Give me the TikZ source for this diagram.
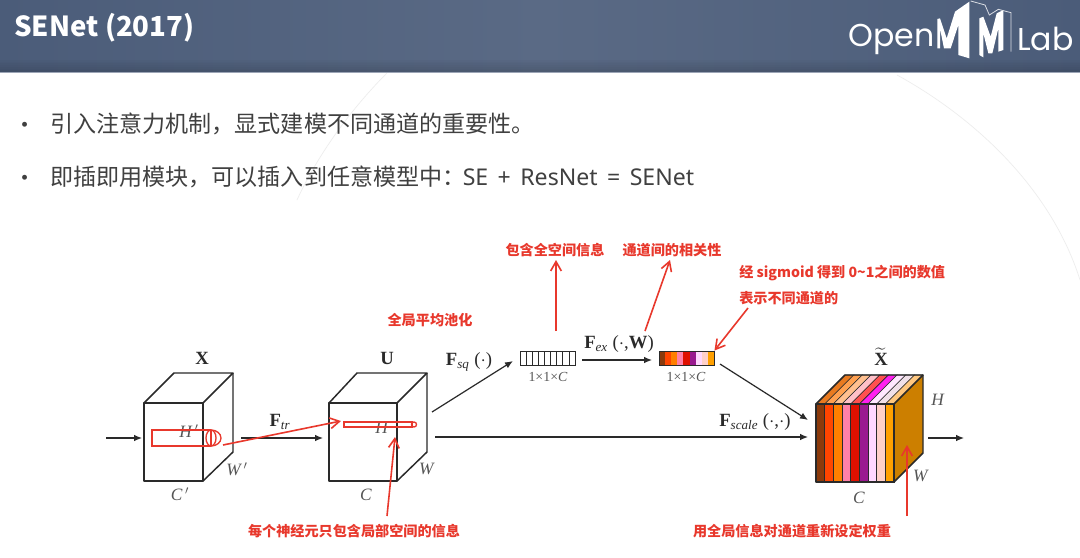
\documentclass[tikz,border=0pt]{standalone}
\usepackage{amsmath,amssymb}
\usepackage{bm}
\usepackage{fontspec}
\setmainfont{Noto Sans CJK SC}
\newfontfamily\tms{Liberation Serif}
\newfontfamily\logofont{Poppins}
\newfontfamily\latin{Noto Sans}
\usepackage{tikz}
\usetikzlibrary{arrows.meta}
\definecolor{barblue}{HTML}{4B5C79}
\definecolor{barlight}{HTML}{5A6A85}
\definecolor{notered}{HTML}{E8382C}
\definecolor{bodygray}{HTML}{404040}
\definecolor{linegray}{HTML}{2A2A2A}
\definecolor{sideorange}{HTML}{CC7F00}
\definecolor{topshade}{HTML}{F5C080}
\tikzset{
    note/.style={text=notered,font=\fontsize{10.6}{12}\selectfont\bfseries,inner sep=0pt},
    notearrow/.style={draw=notered,line width=1.2pt,-{Straight Barb[length=7pt,width=8pt]}},
    flow/.style={draw=linegray,line width=0.9pt,-{Latex[length=6pt,width=5pt]}},
    cube/.style={draw=linegray,line width=1.1pt,line join=round},
    dimlabel/.style={font=\tms\fontsize{13}{14}\selectfont\color{linegray!80},inner sep=0pt},
    funclabel/.style={font=\tms\fontsize{14}{15}\selectfont,text=linegray,inner sep=0pt},
    sizelabel/.style={font=\tms\fontsize{10.4}{12}\selectfont\color{linegray!80},inner sep=0pt},
    headlabel/.style={font=\tms\fontsize{14}{15}\selectfont\bfseries,text=linegray,inner sep=0pt},
    body/.style={text=bodygray,font=\fontsize{17.3}{20}\selectfont,anchor=west,inner sep=0pt},
    vecbar/.style={draw=linegray,line width=0.7pt,minimum width=41.25pt,minimum height=10.5pt,inner sep=0pt}
}
\begin{document}
\begin{tikzpicture}[x=0.75pt,y=-0.75pt]
    \useasboundingbox (0,0) rectangle (1080,557);
    \fill[white] (0,0) rectangle (1080,557);
    \draw[black!7,line width=0.5pt] (897,75) .. controls (970,115) and (1050,185) .. (1080,280);
    \draw[black!7,line width=0.5pt] (387,73) .. controls (355,105) and (320,150) .. (297,200);
    \shade[left color=barblue,right color=barblue,middle color=barlight] (0,0) rectangle (1080,72);
    \foreach \k in {0,...,7}{
        \fill[black,opacity=0.02*\k] (0,{58+\k*1.75}) rectangle (1080,{58+(\k+1)*1.75});
    }
    \fill[barlight!60!white] (0,71.5) rectangle (1080,73);
    \node[anchor=west,text=white,inner sep=0pt,font=\fontsize{20.7}{22}\selectfont\bfseries] (title) at (14,28) {SENet (2017)};
    \node[anchor=west,text=white,inner sep=0pt,font=\logofont\fontsize{23.7}{30}\selectfont] (logoa) at (848,39) {Open};
    \node[anchor=west,text=white,inner sep=0pt,font=\logofont\fontsize{23.7}{30}\selectfont] (logob) at (1017,39) {Lab};
    \begin{scope}[shift={(930,0)},x=0.25pt,y=-0.25pt]
        \fill[white] (22,57) -- (30,55) -- (50,115) -- (75,35) -- (118,5) -- (118,175) -- (85,165) -- (85,75) -- (62,145) -- (42,145) -- (30,85) -- (30,145) -- (22,145) -- cycle;
        \fill[white] (148,55) -- (160,50) -- (182,110) -- (200,40) -- (220,30) -- (220,150) -- (205,155) -- (205,85) -- (187,160) -- (175,160) -- (160,100) -- (160,172) -- (148,165) -- cycle;
        \draw[white!80!barblue,line width=0.6pt] (122,3) -- (165,15) -- (178,45) -- (205,28) -- (243,38) -- (243,155);
    \end{scope}

    \node[body] (bulleta) at (13,128) {•};
    \node[body] (linea) at (50,124) {引入注意力机制，显式建模不同通道的重要性。};
    \node[body] (bulletb) at (13,181) {•};
    \node[body] (lineb) at (50,177) {即插即用模块，可以插入到任意模型中：\hspace{-2pt}{\latin\spaceskip=7.1pt SE + ResNet = SENet}};

    \draw[cube] (144,403) rectangle (203,481);
    \draw[cube] (144,403) -- (174,373) -- (233,373) -- (203,403);
    \draw[cube] (203,481) -- (233,452) -- (233,373);
    \draw[cube] (329,403) rectangle (397,481);
    \draw[cube] (329,403) -- (357,373) -- (427,373) -- (397,403);
    \draw[cube] (397,481) -- (427,452) -- (427,373);

    \fill[sideorange] (894,404) -- (923,375) -- (923,453) -- (894,482) -- cycle;
    \fill[topshade] (816,404) -- (845,375) -- (923,375) -- (894,404) -- cycle;
    \foreach \k/\cf/\ct in {0/8B3A0B/E87A20,1/FF4500/FFA050,2/FF7F00/FFC090,3/FF80A8/FFC0C8,4/E01000/FF5050,5/9A1A90/FF20F0,6/FFD8FF/FFE8FF,7/FFD0C8/F0E0E8,8/FFA000/FFC880}{
        \definecolor{cfront}{HTML}{\cf}
        \definecolor{ctop}{HTML}{\ct}
        \draw[fill=cfront,draw=linegray,line width=0.5pt] ({816+\k*8.67},404) rectangle ({816+(\k+1)*8.67},482);
        \draw[fill=ctop,draw=linegray,line width=0.4pt] ({816+\k*8.67},404) -- ({845+\k*8.67},375) -- ({845+(\k+1)*8.67},375) -- ({816+(\k+1)*8.67},404) -- cycle;
    }
    \draw[cube] (816,404) rectangle (894,482);
    \draw[cube] (816,404) -- (845,375) -- (923,375) -- (923,453) -- (894,482);
    \draw[cube] (894,404) -- (923,375);

    \node[vecbar] (squeezebar) at (547.5,358) {};
    \foreach \k in {1,...,8}{
        \draw[linegray,line width=0.5pt] ({520+\k*6.11},351) -- ({520+\k*6.11},365);
    }
    \foreach \k/\cf in {0/8B3A0B,1/FF4500,2/FF7F00,3/FF80A8,4/E01000,5/9A1A90,6/FFD8FF,7/FFD0C8,8/FFA000}{
        \definecolor{cfront}{HTML}{\cf}
        \fill[cfront] ({659+\k*6.11},351) rectangle ({659+(\k+1)*6.11},365);
    }
    \node[vecbar] (excitebar) at (686.5,358) {};

    \coordinate (xin) at (106,438);
    \coordinate (xend) at (142,438);
    \coordinate (trstart) at (241,438);
    \coordinate (trend) at (323,438);
    \coordinate (sqstart) at (432,412);
    \coordinate (sqend) at (513,361);
    \coordinate (exstart) at (582,360);
    \coordinate (exend) at (652,360);
    \coordinate (scalea) at (720,364);
    \coordinate (scaleb) at (808,420);
    \coordinate (skipa) at (435,437);
    \coordinate (skipb) at (808,437);
    \coordinate (outa) at (928,438);
    \coordinate (outb) at (964,438);
    \draw[flow] (xin) -- (xend);
    \draw[flow] (trstart) -- (trend);
    \draw[flow] (sqstart) -- (sqend);
    \draw[flow] (exstart) -- (exend);
    \draw[flow] (scalea) -- (scaleb);
    \draw[flow] (skipa) -- (skipb);
    \draw[flow] (outa) -- (outb);

    \node[headlabel] (xlabel) at (202,358) {X};
    \node[headlabel] (ulabel) at (387,358) {U};
    \node[headlabel] (xtlabel) at (881,357) {$\widetilde{\text{\tms\bfseries X}}$};
    \node[dimlabel] at (189,431) {\textit{H\,$'$}};
    \node[dimlabel] at (382,428) {\textit{H}};
    \node[dimlabel] at (237,469) {\textit{W\,$'$}};
    \node[dimlabel] at (427,469) {\textit{W}};
    \node[dimlabel] at (180,494) {\textit{C\,$'$}};
    \node[dimlabel] at (366,495) {\textit{C}};
    \node[dimlabel] at (938,400) {\textit{H}};
    \node[dimlabel] at (921,476) {\textit{W}};
    \node[dimlabel] at (859,498) {\textit{C}};
    \node[funclabel] at (280,422) {\textbf{F}\textsubscript{\textit{tr}}};
    \node[funclabel] at (469,362) {\textbf{F}\textsubscript{\textit{sq}} ($\cdot$)};
    \node[funclabel] at (619,344) {\textbf{F}\textsubscript{\textit{ex}} ($\cdot$,\textbf{W})};
    \node[funclabel] at (755,422) {\textbf{F}\textsubscript{\textit{scale}} ($\cdot$,$\cdot$)};
    \node[sizelabel] at (548,377) {1×1×\textit{C}};
    \node[sizelabel] at (686,377) {1×1×\textit{C}};

    \draw[notered,line width=1pt] (211,430) -- (152,430) -- (152,446) -- (211,446);
    \draw[notered,line width=1pt] (211,446) arc (90:-90:10 and 8);
    \draw[notered,line width=1pt] (211,438) ellipse (5 and 8);
    \draw[notered,line width=1pt] (211,430) -- (211,446);
    \draw[notered,line width=1pt] (344,422) rectangle (412,427);
    \draw[notered,line width=1pt] (414,424.5) circle (2.5);

    \node[note] (poolnote) at (430,320) {全局平均池化};
    \node[note] (spacenote) at (555,250) {包含全空间信息};
    \node[note] (corrnote) at (672,250) {通道间的相关性};
    \node[note,anchor=west] (sigmanote) at (739,273) {经 sigmoid 得到 0\textasciitilde 1之间的数值};
    \node[note,anchor=west] (sigmbnote) at (739,298) {表示不同通道的};
    \node[note] (localnote) at (354,531) {每个神经元只包含局部空间的信息};
    \node[note] (weightnote) at (792,531) {用全局信息对通道重新设定权重};

    \coordinate (rfa) at (223,445);
    \coordinate (rfb) at (341,421);
    \coordinate (rla) at (387,516);
    \coordinate (rlb) at (395,437);
    \coordinate (rsa) at (556,331);
    \coordinate (rsb) at (556,260);
    \coordinate (rca) at (645,331);
    \coordinate (rcb) at (670,260);
    \coordinate (rga) at (748,308);
    \coordinate (rwa) at (907,516);
    \coordinate (rwb) at (907,445);
    \draw[notearrow] (rfa) -- (rfb);
    \draw[notearrow] (rla) -- (rlb);
    \draw[notearrow] (rsa) -- (rsb);
    \draw[notearrow] (rca) -- (rcb);
    \draw[notearrow] (rga) -- (excitebar.north east);
    \draw[notearrow] (rwa) -- (rwb);
 \end{tikzpicture}
\end{document}
